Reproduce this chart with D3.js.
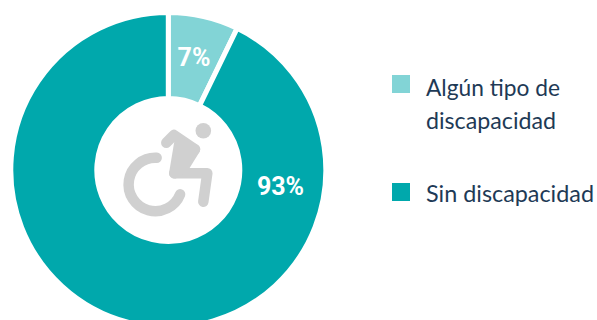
<!DOCTYPE html>
<html><head><meta charset="utf-8">
<script src="https://cdn.jsdelivr.net/npm/d3@7/dist/d3.min.js"></script>
<style>html,body{margin:0;padding:0;background:#fff}svg{display:block}</style>
</head><body><svg id="c" width="597" height="320"></svg>
<script>
const categories = ["Algún tipo de discapacidad", "Sin discapacidad"];
const values = [7.2, 92.8];
const valueLabels = ["7%", "93%"];
const legendLines = [["Algún tipo de", "discapacidad"], ["Sin discapacidad"]];
const colors = ["#82d4d6", "#00a8ac"];

const svg = d3.select("#c");
const cx = 168.3, cy = 170, R = 157.5, r = 71.5;
const color = d3.scaleOrdinal(categories, colors);
const pie = d3.pie().sort(null)(values);
const arc = d3.arc().innerRadius(r).outerRadius(R);
const g = svg.append("g").attr("transform", `translate(${cx},${cy})`);
g.selectAll("path").data(pie).join("path")
  .attr("d", arc)
  .attr("fill", (d, i) => color(categories[i]))
  .attr("stroke", "#fff").attr("stroke-width", 5);

const labelPos = [[25.7, -111], [112.2, 18]];
g.selectAll("text").data(valueLabels).join("text")
  .attr("x", (d, i) => labelPos[i][0]).attr("y", (d, i) => labelPos[i][1])
  .attr("text-anchor", "middle").attr("dominant-baseline", "middle")
  .attr("font-family", "Roboto, sans-serif").attr("font-weight", 700)
  .attr("font-size", 25).attr("fill", "#fff").text(d => d);

// wheelchair icon
const gray = "#d0d0d0";
const ic = svg.append("g").attr("fill", "none").attr("stroke", gray)
  .attr("stroke-linecap", "round").attr("stroke-linejoin", "round").attr("stroke-width", 10.5);
ic.append("circle").attr("cx", 203.3).attr("cy", 130.7).attr("r", 7.8).attr("fill", gray).attr("stroke", "none");
const wheel = d3.path();
wheel.arc(155.3, 184.5, 26.7, -1.52, 0.377, true);
ic.append("path").attr("d", wheel.toString());
ic.append("path").attr("d", "M166.3,142.7 L174,135 L195,149.3 L174.3,173.3 L207.3,173.3 L203.3,201.7");
ic.append("path").attr("fill", gray)
  .attr("d", "M179.3,143.3 L195,149.3 L183.3,168.3 L174.3,173.3 Z");

// legend
const leg = svg.append("g");
const legY = [75, 183];
const lineY = [[95.5, 128.5], [201.5]];
const lineW = [[134, 130], [168]];
leg.selectAll("rect").data(categories).join("rect")
  .attr("x", 392).attr("y", (d, i) => legY[i]).attr("width", 18).attr("height", 18)
  .attr("fill", d => color(d));
legendLines.forEach((ls, i) => ls.forEach((t, j) => {
  leg.append("text").attr("x", 426).attr("y", lineY[i][j])
    .attr("font-family", "Lato, sans-serif").attr("font-size", 23.4)
    .attr("textLength", lineW[i][j]).attr("lengthAdjust", "spacingAndGlyphs")
    .attr("fill", "#1e3a56").text(t);
}));
</script></body></html>
